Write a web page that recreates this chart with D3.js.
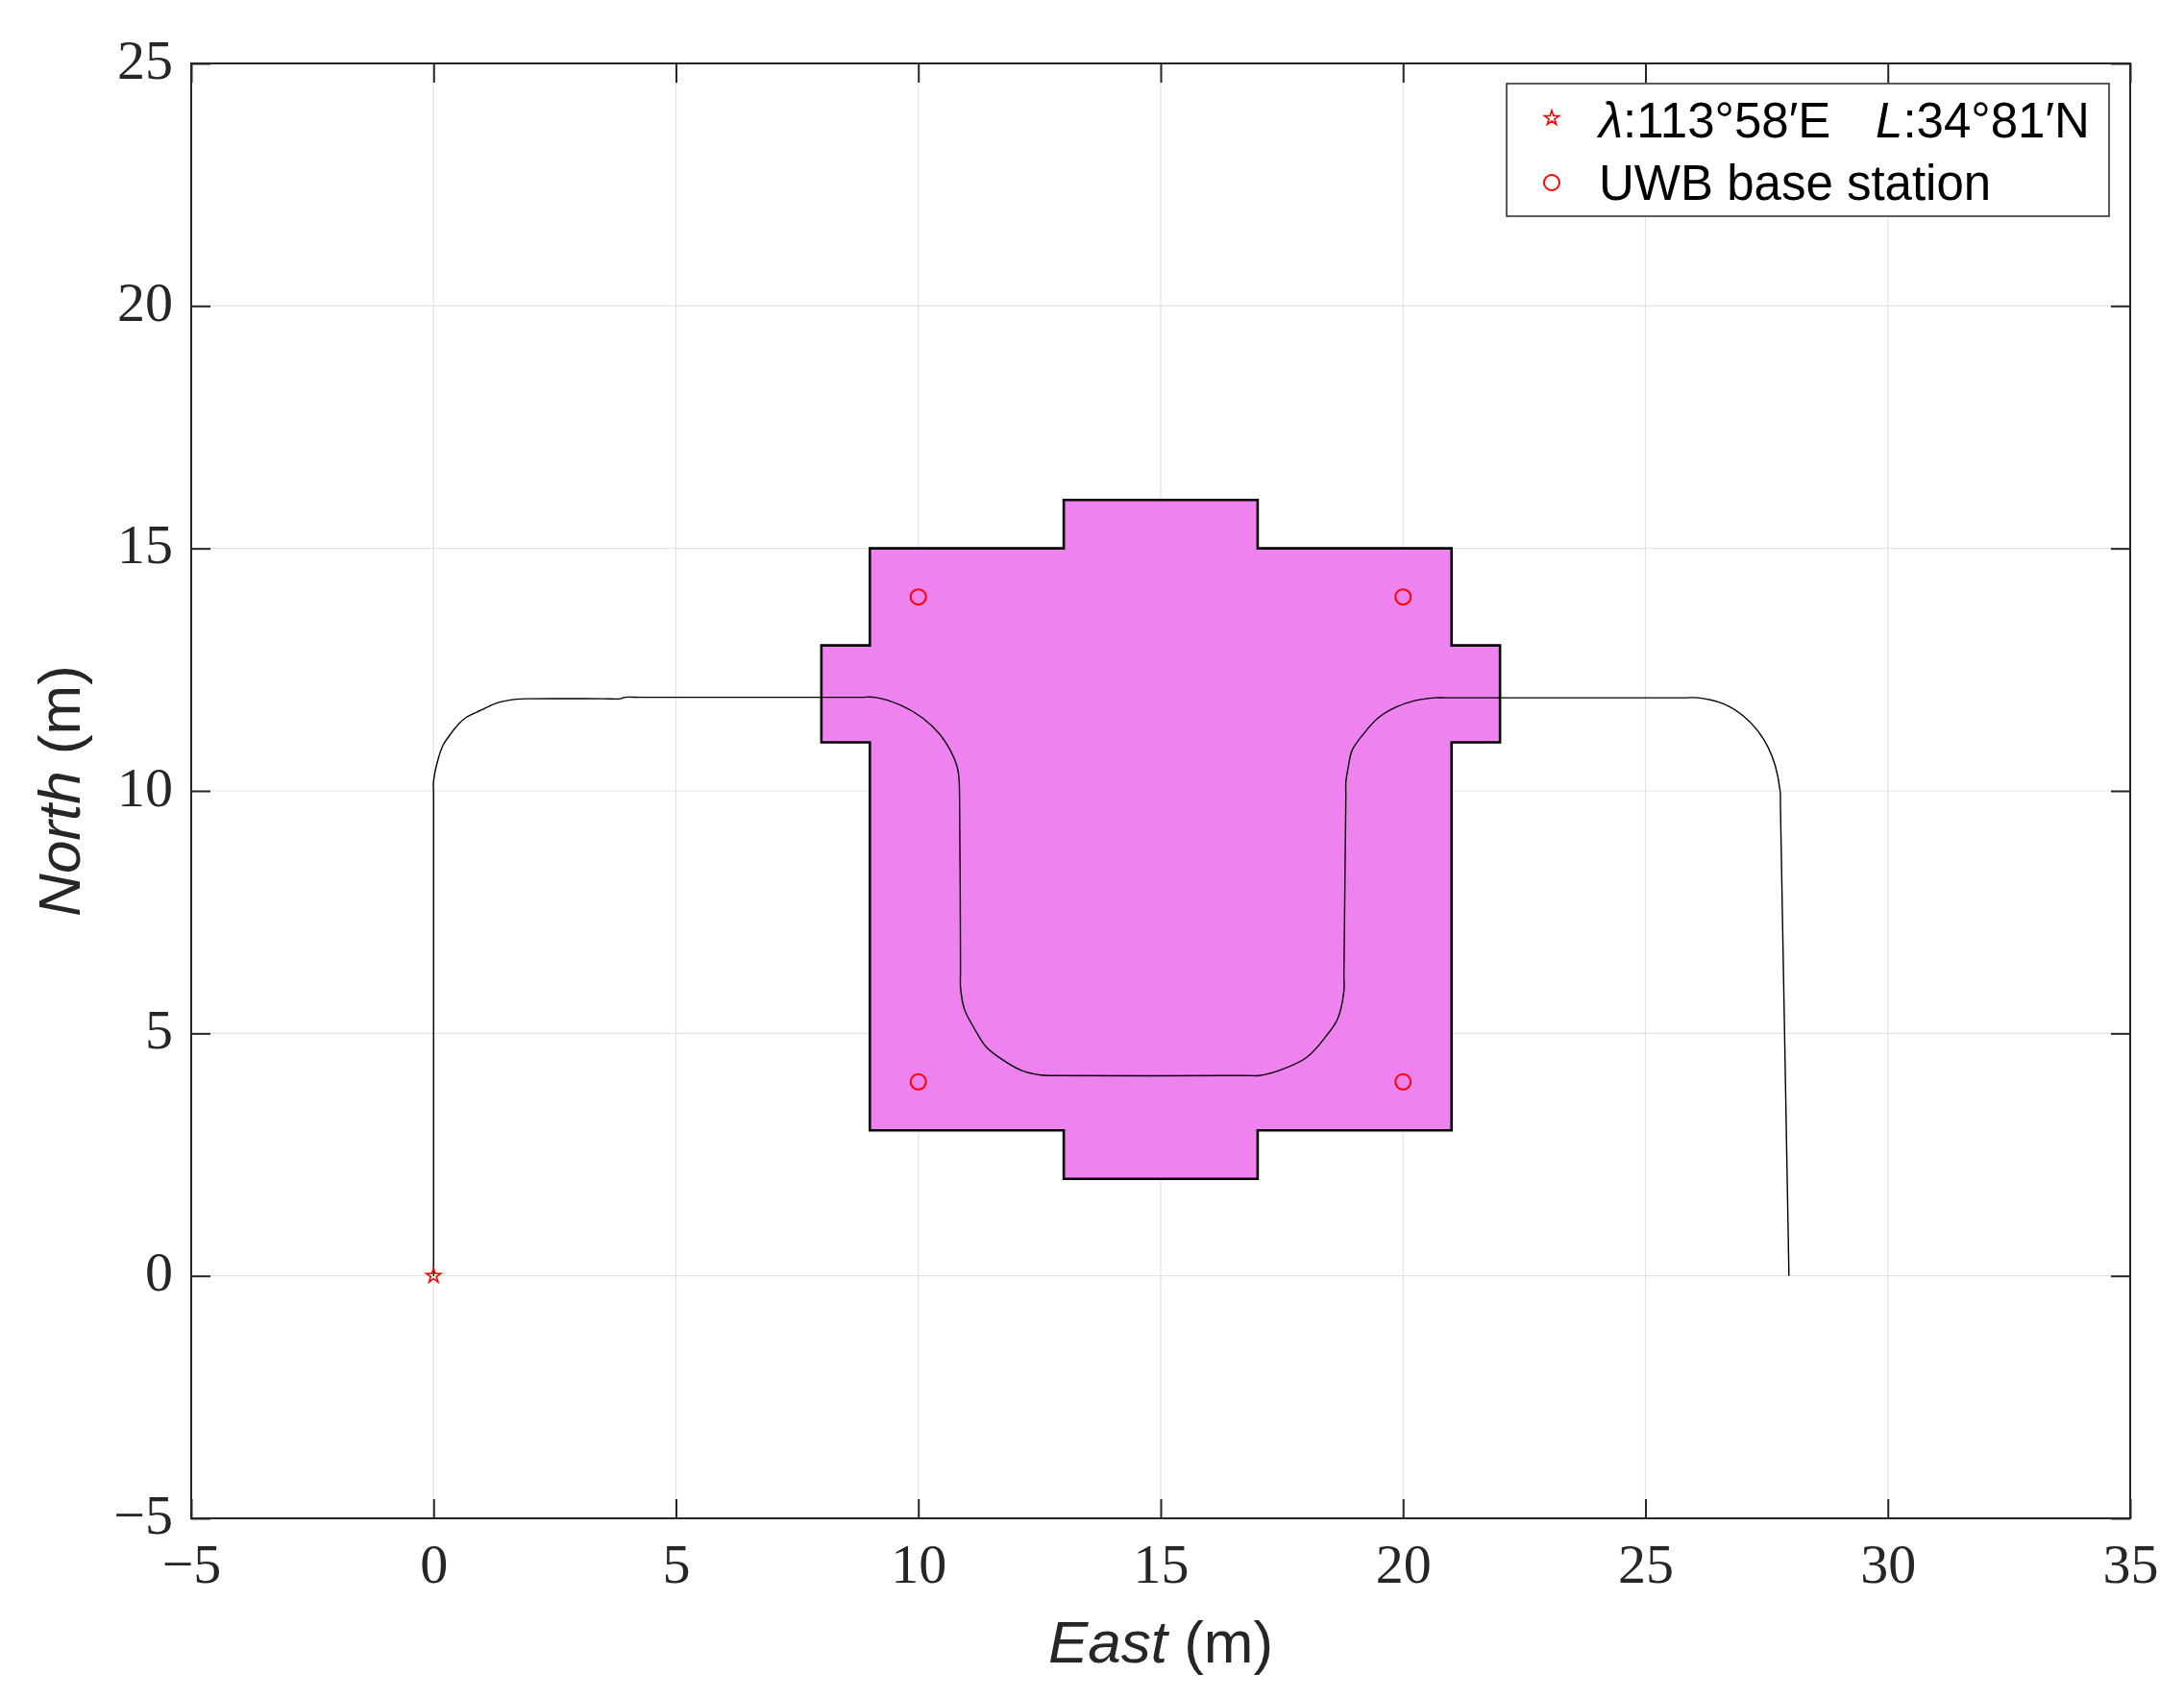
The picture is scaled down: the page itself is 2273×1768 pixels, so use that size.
<!DOCTYPE html>
<html>
<head>
<meta charset="utf-8">
<script src="https://cdn.jsdelivr.net/npm/d3@7"></script>
<style>
  html, body { margin: 0; padding: 0; background: #fff; }
  svg { display: block; }
</style>
</head>
<body>
<svg id="chart" width="2273" height="1768"></svg>
<script>
// ---------------- data ----------------
const xTicks = [-5, 0, 5, 10, 15, 20, 25, 30, 35];
const yTicks = [-5, 0, 5, 10, 15, 20, 25];

// building footprint (East, North) in metres
const blockX = [9, 9, 8, 8, 9, 9, 13, 13, 17, 17, 21, 21, 22, 22, 21, 21, 17, 17, 13, 13];
const blockY = [3, 11, 11, 13, 13, 15, 15, 16, 16, 15, 15, 13, 13, 11, 11, 3, 3, 2, 2, 3];

// trajectory (East, North)
const trackE = [0, 0, 0, 0, 0.09, 0.2, 0.35, 0.52, 0.68, 0.97, 1.3, 1.7, 2.0, 3.5, 3.85, 3.95, 4.3,
  8.8, 9.1, 9.65, 10.09, 10.44, 10.66, 10.8, 10.84, 10.85, 10.87, 10.87,
  10.95, 11.15, 11.41, 11.81, 12.14, 12.53, 12.8, 16.8, 17.03,
  17.49, 18.02, 18.41, 18.65, 18.78, 18.78, 18.82, 18.82, 18.87,
  18.95, 19.18, 19.48, 19.86, 20.24, 20.66, 20.9, 25.8, 26.09,
  26.62, 27.0, 27.3, 27.53, 27.68, 27.78, 27.785, 27.955, 27.96];
const trackN = [0, 0.3, 9.9, 10.2, 10.64, 10.95, 11.17, 11.38, 11.52, 11.66, 11.81, 11.89, 11.90, 11.90, 11.90, 11.93, 11.93,
  11.93, 11.93, 11.76, 11.5, 11.17, 10.84, 10.5, 10.24, 9.9, 6.3, 5.95,
  5.50, 5.11, 4.71, 4.41, 4.23, 4.14, 4.13, 4.13, 4.13,
  4.25, 4.51, 4.94, 5.30, 5.87, 6.2, 9.9, 10.18, 10.5,
  10.84, 11.17, 11.5, 11.73, 11.86, 11.92, 11.92, 11.92, 11.92,
  11.79, 11.56, 11.26, 10.90, 10.51, 9.98, 9.7, 0.3, 0];

// UWB base stations
const stationE = [10, 20, 10, 20];
const stationN = [14, 14, 4, 4];

// origin
const originE = [0];
const originN = [0];

const legendLabels = ["UWB base station"];

// ---------------- layout ----------------
const svg = d3.select("#chart");
const L = 199, R = 2217, T = 66, B = 1580;
const x = d3.scaleLinear().domain([-5, 35]).range([L, R]);
const y = d3.scaleLinear().domain([-5, 25]).range([B, T]);
const axisColor = "#262626";
const serif = "'Liberation Serif', 'DejaVu Serif', serif";
const sans = "'Liberation Sans', Arial, sans-serif";

// grid
const grid = svg.append("g");
grid.selectAll("line.gx").data(xTicks.slice(1, -1)).join("line")
  .attr("x1", d => x(d)).attr("x2", d => x(d)).attr("y1", T).attr("y2", B)
  .attr("stroke", "#e3e3e3").attr("stroke-width", 1.2);
grid.selectAll("line.gy").data(yTicks.slice(1, -1)).join("line")
  .attr("y1", d => y(d)).attr("y2", d => y(d)).attr("x1", L).attr("x2", R)
  .attr("stroke", "#e3e3e3").attr("stroke-width", 1.2);

// building
const blockPts = blockX.map((v, i) => [v, blockY[i]]);
svg.append("path")
  .attr("d", d3.line().x(d => x(d[0])).y(d => y(d[1]))(blockPts) + "Z")
  .attr("fill", "#ee82ee").attr("stroke", "#000").attr("stroke-width", 2.6)
  .attr("stroke-linejoin", "miter");

// trajectory
const trackPts = trackE.map((v, i) => [v, trackN[i]]);
svg.append("path")
  .attr("d", d3.line().x(d => x(d[0])).y(d => y(d[1])).curve(d3.curveCatmullRom.alpha(0.5))(trackPts))
  .attr("fill", "none").attr("stroke", "#000").attr("stroke-width", 1.4);

// stations
svg.append("g").selectAll("circle").data(stationE.map((v, i) => [v, stationN[i]])).join("circle")
  .attr("cx", d => x(d[0])).attr("cy", d => y(d[1])).attr("r", 8)
  .attr("fill", "none").attr("stroke", "#ff0000").attr("stroke-width", 2);

// origin star
const star = d3.symbol().type(d3.symbolStar).size(72);
svg.append("g").selectAll("path").data(originE.map((v, i) => [v, originN[i]])).join("path")
  .attr("d", star)
  .attr("transform", d => `translate(${x(d[0])},${y(d[1])})`)
  .attr("fill", "none").attr("stroke", "#ff0000").attr("stroke-width", 1.6);

// axes
const fmt = d => (d < 0 ? "\u2212" + Math.abs(d) : String(d));
const gx = svg.append("g").attr("transform", `translate(0,${B})`)
  .call(d3.axisBottom(x).tickValues(xTicks).tickSizeInner(-20).tickSizeOuter(0).tickFormat(fmt));
const gy = svg.append("g").attr("transform", `translate(${L},0)`)
  .call(d3.axisLeft(y).tickValues(yTicks).tickSizeInner(-20).tickSizeOuter(0).tickFormat(fmt));
const gxt = svg.append("g").attr("transform", `translate(0,${T})`)
  .call(d3.axisTop(x).tickValues(xTicks).tickSizeInner(-20).tickSizeOuter(0).tickFormat(""));
const gyr = svg.append("g").attr("transform", `translate(${R},0)`)
  .call(d3.axisRight(y).tickValues(yTicks).tickSizeInner(-20).tickSizeOuter(0).tickFormat(""));

[gx, gy, gxt, gyr].forEach(g => {
  g.select(".domain").remove();
  g.selectAll(".tick line").attr("stroke", axisColor).attr("stroke-width", 2);
});
gx.selectAll(".tick text")
  .attr("y", 67).attr("dy", null)
  .attr("font-family", serif).attr("font-size", 58).attr("fill", axisColor);
gy.selectAll(".tick text")
  .attr("x", -19).attr("dy", 15)
  .attr("font-family", serif).attr("font-size", 58).attr("fill", axisColor);

// box
svg.append("rect").attr("x", L).attr("y", T).attr("width", R - L).attr("height", B - T)
  .attr("fill", "none").attr("stroke", axisColor).attr("stroke-width", 2);

// axis labels
const xl = svg.append("text").attr("x", (L + R) / 2).attr("y", 1730)
  .attr("text-anchor", "middle").attr("font-family", sans).attr("font-size", 62).attr("fill", axisColor);
xl.append("tspan").attr("font-style", "italic").text("East");
xl.append("tspan").text(" (m)");

const yl = svg.append("text").attr("transform", `translate(83,${(T + B) / 2}) rotate(-90)`)
  .attr("text-anchor", "middle").attr("font-family", sans).attr("font-size", 62).attr("fill", axisColor);
yl.append("tspan").attr("font-style", "italic").text("North");
yl.append("tspan").text(" (m)");

// legend
const lg = svg.append("g");
lg.append("rect").attr("x", 1568).attr("y", 87).attr("width", 627).attr("height", 138)
  .attr("fill", "#fff").attr("stroke", axisColor).attr("stroke-width", 1.5);
lg.append("path").attr("d", star).attr("transform", "translate(1615,123)")
  .attr("fill", "none").attr("stroke", "#ff0000").attr("stroke-width", 1.6);
lg.append("circle").attr("cx", 1615).attr("cy", 190).attr("r", 8)
  .attr("fill", "none").attr("stroke", "#ff0000").attr("stroke-width", 2);
const t1 = lg.append("text").attr("x", 1664).attr("y", 143)
  .attr("font-family", sans).attr("font-size", 51).attr("fill", "#000");
t1.append("tspan").attr("font-style", "italic").text("\u03bb");
t1.append("tspan").text(":113\u00b058\u2032E");
t1.append("tspan").attr("x", 1952).attr("font-style", "italic").text("L");
t1.append("tspan").text(":34\u00b081\u2032N");
lg.append("text").attr("x", 1664).attr("y", 208)
  .attr("font-family", sans).attr("font-size", 51).attr("fill", "#000")
  .text(legendLabels[0]);
</script>
</body>
</html>
